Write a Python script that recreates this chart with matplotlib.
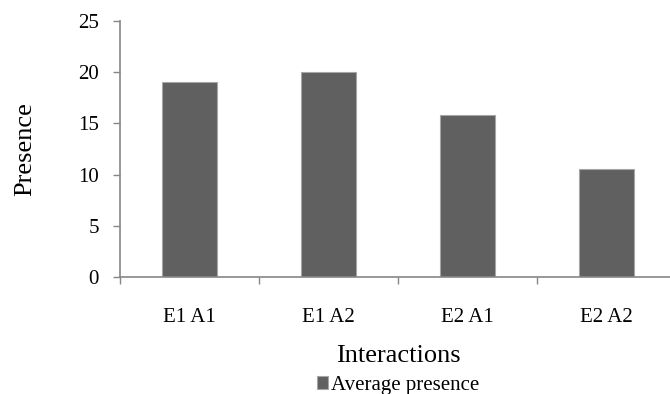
import numpy as np
from matplotlib import pyplot as plt
from matplotlib.ticker import FixedLocator, NullFormatter

categories = ['E1 A1', 'E1 A2', 'E2 A1', 'E2 A2']
presence = [19.0, 20.0, 15.85, 10.5]
series_name = 'Average presence'

plt.rcParams['font.family'] = ['Liberation Serif', 'DejaVu Serif']

fig = plt.figure(figsize=(6.7, 3.94), dpi=100)
ax = fig.add_axes([0.179, 0.297, 0.830, 0.650])

x = np.arange(len(categories))
ax.bar(x, presence, width=0.4, color='#606060', edgecolor='#a6a6a6',
       linewidth=0.8, label=series_name)

ax.set_xlim(-0.5, len(categories) - 0.5)
ax.set_ylim(0, 25)
ax.set_yticks([0, 5, 10, 15, 20, 25])

ax.set_xticks(x)
ax.set_xticklabels(categories)
ax.xaxis.set_minor_locator(FixedLocator(np.arange(len(categories) + 1) - 0.5))
ax.xaxis.set_minor_formatter(NullFormatter())
ax.tick_params(axis='x', which='major', length=0, pad=22, labelsize=15)
ax.tick_params(axis='x', which='minor', length=5, color='#868686', width=1)
ax.tick_params(axis='y', length=5, color='#868686', width=1, pad=10, labelsize=15)

for side in ['top', 'right']:
    ax.spines[side].set_visible(False)
for side in ['left', 'bottom']:
    ax.spines[side].set_color('#868686')
    ax.spines[side].set_linewidth(1.2)

ax.set_ylabel('Presence', fontsize=19, labelpad=30)
ax.set_xlabel('Interactions', fontsize=19, labelpad=13)

fig.legend(loc='lower center', bbox_to_anchor=(0.594, -0.05), frameon=False,
           fontsize=15, handlelength=0.55, handleheight=0.55, handletextpad=0.15)

fig.savefig('out.png', dpi=100)
